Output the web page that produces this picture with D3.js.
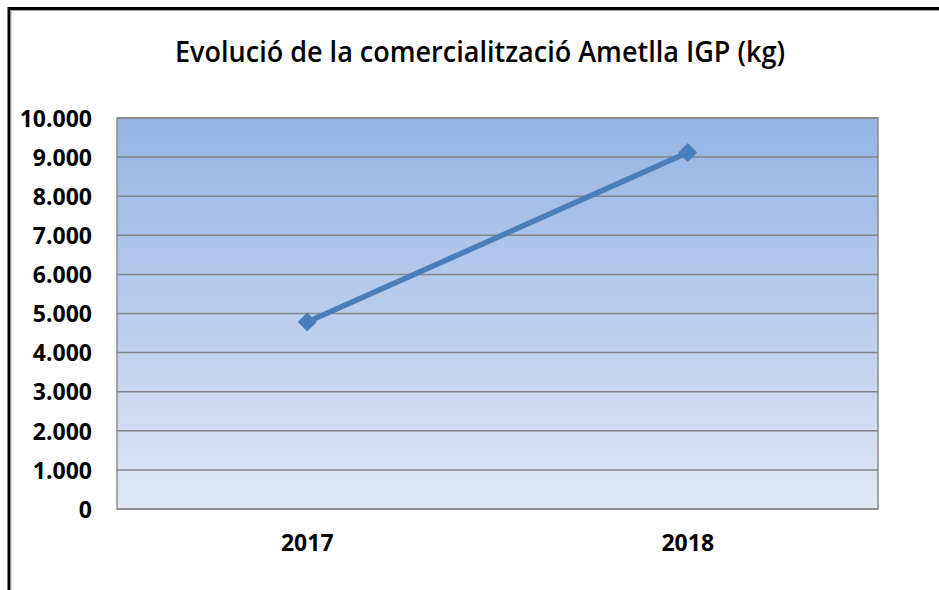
<!DOCTYPE html>
<html><head><meta charset="utf-8">
<script src="https://cdn.jsdelivr.net/npm/d3@7"></script>
<style>body{margin:0;background:#fff}svg{display:block}</style>
</head><body>
<svg id="c" width="939" height="590"></svg>
<script>
const title = "Evolució de la comercialització Ametlla IGP (kg)";
const categories = ["2017", "2018"];
const values = [4780, 9120];
const yTicks = [0, 1000, 2000, 3000, 4000, 5000, 6000, 7000, 8000, 9000, 10000];

const svg = d3.select("#c");
const W = 939, H = 590;
const m = {left: 117, right: 878, top: 118, bottom: 509};
const font = "'Open Sans', sans-serif";

// outer frame
svg.append("rect").attr("x",0).attr("y",0).attr("width",W).attr("height",H).attr("fill","#fff");
svg.append("line").attr("x1",9).attr("x2",W).attr("y1",8.5).attr("y2",8.5).attr("stroke","#000").attr("stroke-width",3);
svg.append("line").attr("x1",9).attr("x2",W).attr("y1",10.5).attr("y2",10.5).attr("stroke","#aaa").attr("stroke-width",1);
svg.append("line").attr("x1",9).attr("x2",9).attr("y1",7).attr("y2",H).attr("stroke","#000").attr("stroke-width",3);
svg.append("line").attr("x1",11).attr("x2",11).attr("y1",10).attr("y2",H).attr("stroke","#aaa").attr("stroke-width",1);

const defs = svg.append("defs");
const g = defs.append("linearGradient").attr("id","bg").attr("x1",0).attr("y1",0).attr("x2",0).attr("y2",1);
g.append("stop").attr("offset","0%").attr("stop-color","#95b3e3");
g.append("stop").attr("offset","100%").attr("stop-color","#e0e7f5");

const x = d3.scaleBand().domain(categories).range([m.left, m.right]);
const y = d3.scaleLinear().domain([0, 10000]).range([m.bottom, m.top]);

svg.append("rect").attr("x",m.left).attr("y",m.top).attr("width",m.right-m.left).attr("height",m.bottom-m.top)
  .attr("fill","url(#bg)").attr("stroke","#8c8c8c").attr("stroke-width",1.5);

// gridlines
svg.append("g").selectAll("line").data(yTicks).join("line")
  .attr("x1",m.left).attr("x2",m.right)
  .attr("y1",d=>y(d)).attr("y2",d=>y(d))
  .attr("stroke","#868686").attr("stroke-width",1.5);

// y axis labels
const fmt = d => d3.format(",")(d).replace(/,/g,".");
const yAxis = d3.axisLeft(y).tickValues(yTicks).tickFormat(fmt).tickSize(0).tickPadding(0);
const ya = svg.append("g").attr("transform","translate(92,0)").call(yAxis);
ya.select(".domain").remove();
ya.selectAll("text").attr("font-family",font).attr("font-weight","bold").attr("font-size",23)
  .attr("fill","#000").attr("dy","0.36em");

// x axis labels
const xAxis = d3.axisBottom(x).tickSize(0).tickPadding(0);
const xa = svg.append("g").attr("transform","translate(0,551)").call(xAxis);
xa.select(".domain").remove();
xa.selectAll("text").attr("font-family",font).attr("font-weight","bold").attr("font-size",23)
  .attr("fill","#000").attr("dy","0").attr("y",0);

// line
const data = categories.map((c,i)=>({c, v: values[i]}));
const line = d3.line().x(d=>x(d.c)+x.bandwidth()/2).y(d=>y(d.v));
svg.append("path").datum(data).attr("d",line).attr("fill","none")
  .attr("stroke","#4a7ebb").attr("stroke-width",5.5).attr("stroke-linecap","round");

svg.append("g").selectAll("path").data(data).join("path")
  .attr("d", d3.symbol().type(d3.symbolDiamond2).size(230))
  .attr("transform", d=>`translate(${x(d.c)+x.bandwidth()/2},${y(d.v)})`)
  .attr("fill","#4a7ebb");

// title
svg.append("text").attr("x",480).attr("y",62).attr("text-anchor","middle")
  .attr("font-family",font).attr("font-weight",600).attr("font-size",29).attr("fill","#000")
  .attr("textLength",610).attr("lengthAdjust","spacingAndGlyphs")
  .text(title);
</script>
</body></html>
